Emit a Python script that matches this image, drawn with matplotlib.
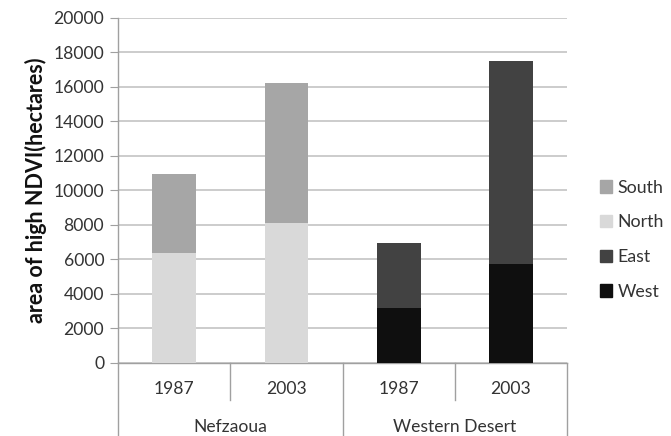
import matplotlib
matplotlib.use('Agg')
import matplotlib.pyplot as plt
import matplotlib.transforms as mtransforms
from matplotlib.patches import Patch

plt.rcParams['font.family'] = ['Lato', 'DejaVu Sans']

years = ['1987', '2003', '1987', '2003']
regions = ['Nefzaoua', 'Western Desert']
north = [6350, 8100, 0, 0]
south = [4600, 8150, 0, 0]
west = [0, 0, 3200, 5700]
east = [0, 0, 3750, 11800]

c_south = '#a6a6a6'
c_north = '#d9d9d9'
c_east = '#424242'
c_west = '#0f0f0f'

fig = plt.figure(figsize=(6.71, 4.36), dpi=100)
ax = fig.add_axes([0.176, 0.168, 0.669, 0.791])

x = list(range(len(years)))
w = 0.39
ax.bar(x, north, w, color=c_north, zorder=3)
ax.bar(x, south, w, bottom=north, color=c_south, zorder=3)
ax.bar(x, west, w, color=c_west, zorder=3)
ax.bar(x, east, w, bottom=west, color=c_east, zorder=3)

ax.set_xlim(-0.5, 3.5)
ax.set_ylim(0, 20000)
ax.set_yticks(range(0, 20001, 2000))
ax.yaxis.grid(True, color='#c4c4c4', linewidth=1.2, zorder=0)
ax.tick_params(axis='y', direction='out', length=6, color='#a0a0a0',
               labelsize=12.6, labelcolor='#333333', pad=4)
ax.set_xticks([])
for s in ['top', 'right']:
    ax.spines[s].set_visible(False)
ax.spines['left'].set_color('#a0a0a0')
ax.spines['bottom'].set_color('#a0a0a0')
ax.spines['left'].set_linewidth(1.0)
ax.spines['bottom'].set_linewidth(1.0)

ax.set_ylabel('area of high NDVI(hectares)', fontsize=15.5, fontweight='bold',
              color='#111111', labelpad=5)

# two-level category axis
trans = mtransforms.blended_transform_factory(ax.transData, ax.transAxes)
for xi, lab in zip(x, years):
    ax.text(xi, -0.075, lab, transform=trans, ha='center', va='center',
            fontsize=12.6, color='#333333')
ax.text(0.5, -0.187, regions[0], transform=trans, ha='center', va='center',
        fontsize=12.6, color='#333333')
ax.text(2.5, -0.187, regions[1], transform=trans, ha='center', va='center',
        fontsize=12.6, color='#333333')
for xd in [0.5, 2.5]:
    ax.plot([xd, xd], [0, -0.108], transform=trans, color='#a0a0a0',
            linewidth=1.0, clip_on=False)
for xd in [-0.5, 1.5, 3.5]:
    ax.plot([xd, xd], [0, -0.213], transform=trans, color='#a0a0a0',
            linewidth=1.0, clip_on=False)

handles = [Patch(color=c_south, label='South'), Patch(color=c_north, label='North'),
           Patch(color=c_east, label='East'), Patch(color=c_west, label='West')]
fig.legend(handles=handles, loc='center left', bbox_to_anchor=(0.87, 0.45),
           frameon=False, fontsize=12.8, handlelength=0.7, handleheight=0.7,
           handletextpad=0.3, labelspacing=1.05, labelcolor='#333333')

fig.savefig('out.png', dpi=100)
